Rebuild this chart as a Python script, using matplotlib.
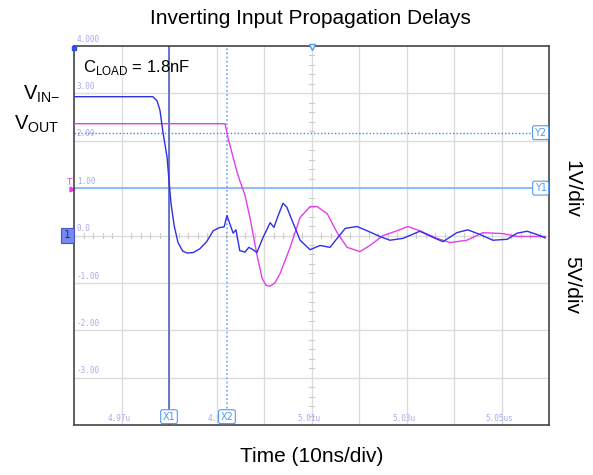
import matplotlib
matplotlib.use("Agg")
import matplotlib.pyplot as plt

# time in ns after 4.96us (10 ns/div), amplitude in divisions
vin_t = [0, 16.6, 17.5, 18.1, 18.7, 19.6, 20.0, 20.4, 21.1, 21.9, 22.9, 23.8, 25.1, 26.5, 28.0,
         29.3, 30.7, 31.6, 32.2, 32.8, 33.5, 34.1, 34.9, 36.0, 36.8, 37.7, 38.5, 39.8, 41.3,
         42.1, 42.9, 44.0, 44.8, 46.1, 47.6, 49.7, 51.8, 53.9, 55.4, 57.1, 59.6, 61.7, 64.4,
         66.5, 69.3, 72.8, 75.6, 77.7, 80.6, 82.9, 85.5, 88.2, 91.2, 93.3, 95.4, 97.5, 99.2]
vin_v = [2.93, 2.93, 2.84, 2.64, 2.2, 1.65, 1.16, 0.7, 0.2, -0.15, -0.33, -0.37, -0.36, -0.28, -0.12,
         0.1, 0.17, 0.18, 0.42, 0.25, 0.05, 0.12, -0.32, -0.35, -0.25, -0.3, -0.36, -0.04, 0.27,
         0.17, 0.4, 0.68, 0.6, 0.27, -0.1, -0.3, -0.21, -0.25, -0.06, 0.15, 0.19, 0.1, -0.02,
         -0.1, -0.06, 0.09, -0.04, -0.13, 0.06, 0.12, 0.02, -0.1, -0.08, 0.05, 0.09, 0.02, -0.05]

vout_t = [0, 31.8, 32.4, 33.5, 34.3, 34.9, 36.0, 37.1, 38.5, 39.6, 40.4, 41.3, 42.3, 43.4,
          45.5, 47.6, 49.7, 51.2, 53.3, 55.4, 57.5, 60.2, 62.3, 65.1, 68.0, 70.3, 72.8,
          76.4, 79.2, 82.7, 86.1, 90.3, 93.3, 96.6, 99.2]
vout_v = [2.36, 2.36, 2.07, 1.65, 1.35, 1.16, 0.85, 0.35, -0.4, -0.9, -1.05, -1.07, -1.0, -0.8,
          -0.25, 0.38, 0.61, 0.61, 0.46, 0.06, -0.25, -0.34, -0.21, 0.0, 0.1, 0.19, 0.1,
          -0.06, -0.15, -0.1, 0.06, 0.04, -0.02, -0.02, -0.02]

x_labels = {10: "4.97u", 30: "4.9", 50: "5.01u", 70: "5.03u", 90: "5.05us"}
y_labels = {4: "4.000", 3: "3.00", 2: "2.00", 1: "1.00", 0: "0.0", -1: "-1.00", -2: "-2.00", -3: "-3.00"}

x1_pos = 20.0
x2_pos = 32.2
y1_pos = 1.0
y2_pos = 2.17

fig = plt.figure(figsize=(5.93, 4.75), dpi=100)
ax = fig.add_axes([74 / 593, 1 - 425 / 475, 475 / 593, 379 / 475])
ax.set_xlim(0, 100)
ax.set_ylim(-4, 4)
ax.set_xticks([])
ax.set_yticks([])
for s in ax.spines.values():
    s.set_color("#444444")
    s.set_linewidth(1.2)

grid_c = "#dcdcdc"
for gx in range(10, 100, 10):
    ax.axvline(gx, color=grid_c, lw=1.0, zorder=1)
for gy in range(-3, 4):
    ax.axhline(gy, color=grid_c, lw=1.0, zorder=1)

# minor ticks on centre lines
for k in range(1, 50):
    t = k * 2
    if t % 10:
        ax.plot([t, t], [-0.05, 0.05], color="#cccccc", lw=0.8, zorder=1)
for k in range(-19, 20):
    v = k * 0.2
    if abs(v - round(v)) > 1e-6:
        ax.plot([49.4, 50.6], [v, v], color="#cccccc", lw=0.8, zorder=1)

lab_c = "#a8a8f0"
for v, s in y_labels.items():
    ax.text(0.6, v + 0.05, s, color=lab_c, fontsize=5.5, family="DejaVu Sans Mono",
            va="bottom", ha="left", zorder=2)
for t, s in x_labels.items():
    ax.text(t - 0.5, -3.95, s, color=lab_c, fontsize=5.5, family="DejaVu Sans Mono",
            va="bottom", ha="center", zorder=2)

# cursors
ax.axhline(y1_pos, color="#8ab8f8", lw=1.3, zorder=2)
ax.axhline(y2_pos, color="#3b8cf0", lw=1.0, ls=(0, (1, 1.5)), zorder=2)
ax.axvline(x1_pos, color="#5a6fc0", lw=1.3, zorder=2)
ax.axvline(x2_pos, color="#6aa8f8", lw=1.2, ls=(0, (1, 1.5)), zorder=2)

ax.plot(vout_t, vout_v, color="#e040e8", lw=1.0, zorder=3)
ax.plot(vin_t, vin_v, color="#2f2fe8", lw=1.0, zorder=4)

box = dict(boxstyle="round,pad=0.2", fc="white", ec="#5599ee", lw=0.8)
for t, s in [(x1_pos, "X1"), (x2_pos, "X2")]:
    ax.text(t, -3.93, s, color="#5599ee", fontsize=7, ha="center", va="bottom", bbox=box, zorder=5)
for v, s in [(y1_pos, "Y1"), (y2_pos, "Y2")]:
    ax.text(99.5, v, s, color="#5599ee", fontsize=7, ha="right", va="center", bbox=box, zorder=5)
ax.plot([50], [3.98], marker="v", color="#5599ee", ms=5, mfc="white", mew=1, zorder=5, clip_on=False)
ax.plot([0.1], [3.95], marker="s", color="#3050e0", ms=3, zorder=5, clip_on=False)
ax.text(-0.5, 1.02, "T", color="#e040e8", fontsize=6.5, ha="right", va="bottom", clip_on=False)
ax.plot([-0.5], [0.98], marker=">", color="#e040e8", ms=3.5, clip_on=False)
ax.text(-0.6, 0.0, "1", color="#223388", fontsize=8, ha="right", va="center", clip_on=False,
        bbox=dict(boxstyle="square,pad=0.25", fc="#7788ee", ec="#4455cc", lw=0.8))

font = "Liberation Sans"
fig.text(310 / 593, 1 - 18 / 475, "Inverting Input Propagation Delays", ha="center", va="center",
         fontsize=15, family=font)
ax.text(1.8, 3.55, r"C$_{\mathregular{LOAD}}$ = 1.8nF", fontsize=12, family=font, va="center", ha="left",
        zorder=6)
fig.text(42 / 593, 1 - 94 / 475, r"V$_{\mathregular{IN}\mathregular{-}}$", ha="center", va="center",
         fontsize=14.5, family=font)
fig.text(37 / 593, 1 - 124 / 475, r"V$_{\mathregular{OUT}}$", ha="center", va="center",
         fontsize=14.5, family=font)
fig.text(572 / 593, 1 - 189 / 475, "1V/div", rotation=-90, ha="center", va="center",
         fontsize=15, family=font)
fig.text(572 / 593, 1 - 285 / 475, "5V/div", rotation=-90, ha="center", va="center",
         fontsize=15, family=font)
fig.text(312 / 593, 1 - 456 / 475, "Time (10ns/div)", ha="center", va="center",
         fontsize=15, family=font)

fig.savefig("out.png", dpi=100)
